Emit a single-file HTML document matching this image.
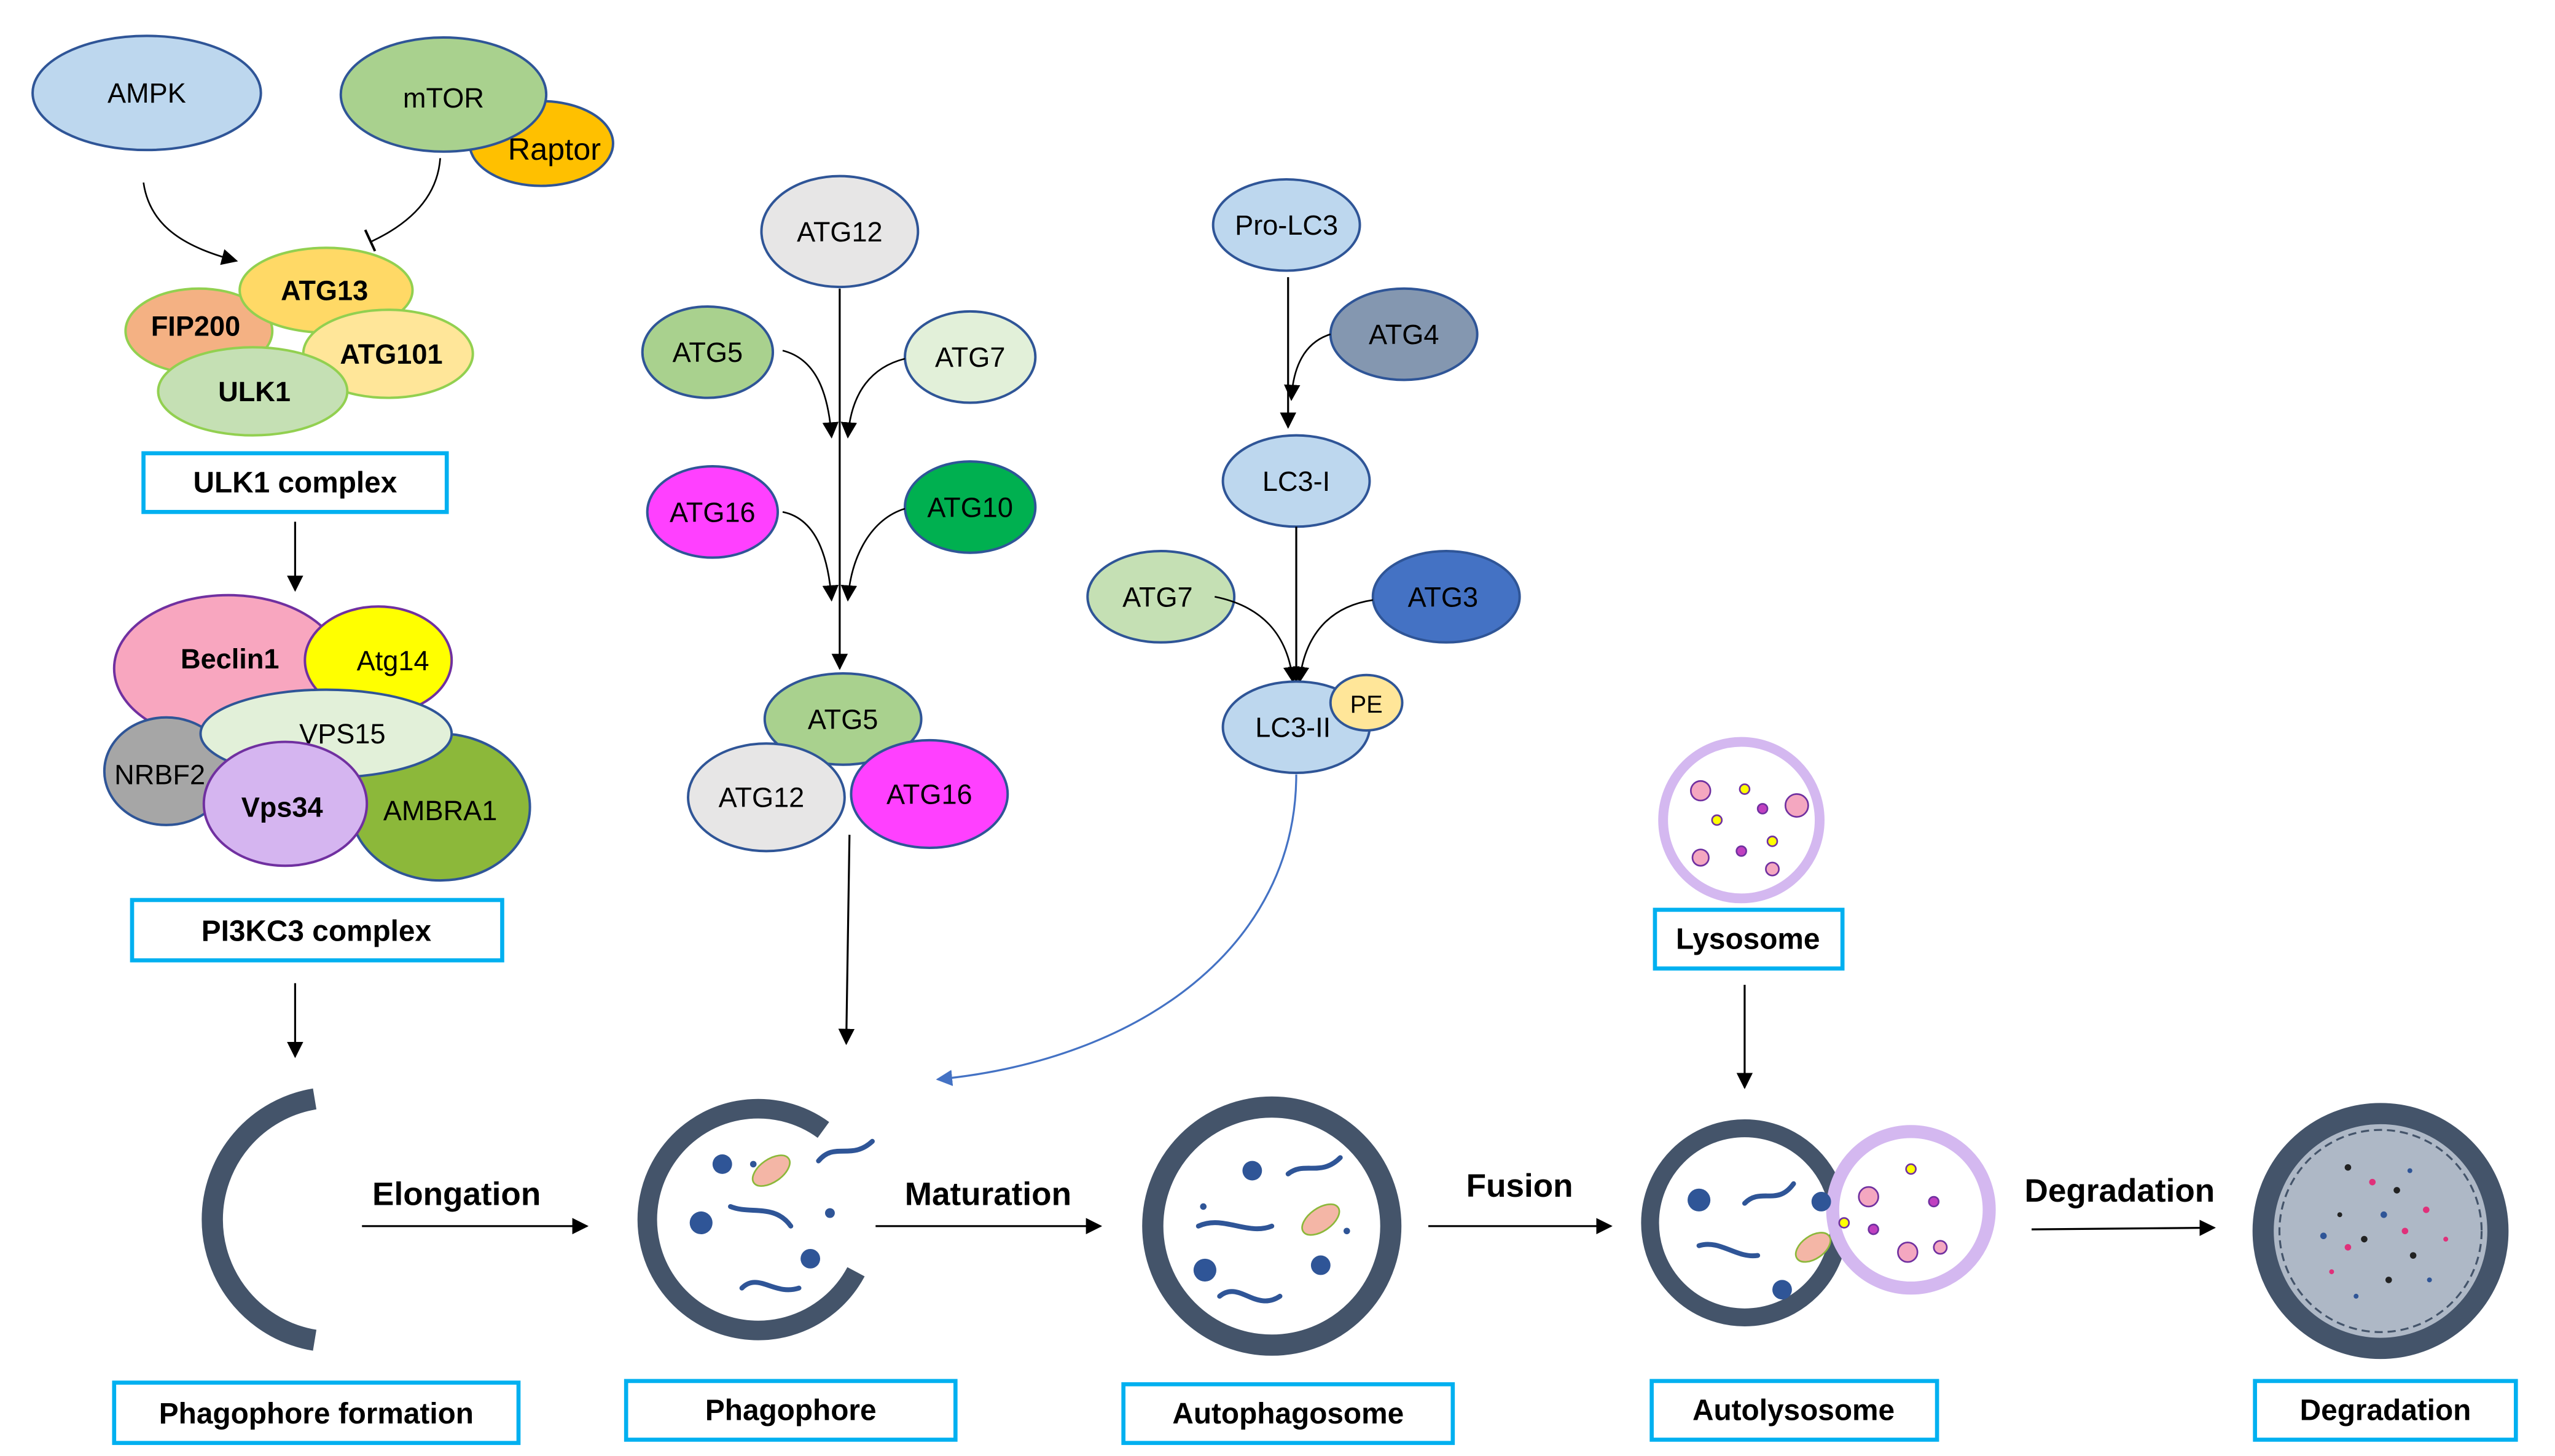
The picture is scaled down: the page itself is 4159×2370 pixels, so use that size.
<!DOCTYPE html>
<html><head><meta charset="utf-8"><style>
html,body{margin:0;padding:0;background:#fff;}
svg{display:block;}
text{font-family:"Liberation Sans",sans-serif;}
</style></head><body>
<svg width="4159" height="2370" viewBox="0 0 1567 893" preserveAspectRatio="none" xmlns="http://www.w3.org/2000/svg">
<defs>
<marker id="a" markerWidth="10" markerHeight="10" refX="9" refY="5" orient="auto" markerUnits="userSpaceOnUse"><path d="M0,0 L10,5 L0,10 z" fill="#000"/></marker>
<marker id="b" markerWidth="10" markerHeight="10" refX="9" refY="5" orient="auto" markerUnits="userSpaceOnUse"><path d="M0,0 L10,5 L0,10 z" fill="#4472c4"/></marker>
</defs>
<rect width="1567" height="893" fill="#fff"/>
<g font-size="17" text-anchor="middle">
<ellipse cx="90" cy="57" rx="70" ry="35" fill="#bdd7ee" stroke="#2f5597" stroke-width="1.5"/>
<text x="90" y="63">AMPK</text>
<ellipse cx="332" cy="88" rx="44" ry="26" fill="#ffc000" stroke="#2f5597" stroke-width="1.5"/>
<text x="340" y="98" font-size="19">Raptor</text>
<ellipse cx="272" cy="58" rx="63" ry="35" fill="#a9d18e" stroke="#2f5597" stroke-width="1.5"/>
<text x="272" y="66">mTOR</text>
<path d="M88,112 C92,140 115,152 145,160" fill="none" stroke="#000" stroke-width="1" marker-end="url(#a)"/>
<path d="M270,97 C268,125 245,140 228,148" fill="none" stroke="#000" stroke-width="1"/>
<line x1="224" y1="141" x2="230" y2="154" stroke="#000" stroke-width="1.5"/>
<g stroke="#92d050" stroke-width="1.5">
<ellipse cx="122" cy="203" rx="45" ry="26" fill="#f4b183"/>
<ellipse cx="200" cy="178" rx="53" ry="26" fill="#ffd966"/>
<ellipse cx="238" cy="217" rx="52" ry="27" fill="#ffe699"/>
<ellipse cx="155" cy="240" rx="58" ry="27" fill="#c5e0b4"/>
</g>
<g font-weight="bold">
<text x="120" y="206">FIP200</text>
<text x="199" y="184">ATG13</text>
<text x="240" y="223">ATG101</text>
<text x="156" y="246">ULK1</text>
</g>
<rect x="88" y="278" width="186" height="36" fill="#fff" stroke="#00b0f0" stroke-width="2.5"/>
<text x="181" y="302" font-weight="bold" font-size="18">ULK1 complex</text>
<line x1="181" y1="320" x2="181" y2="362" stroke="#000" stroke-width="1.2" marker-end="url(#a)"/>
<ellipse cx="140" cy="410" rx="70" ry="45" fill="#f8a6bf" stroke="#7030a0" stroke-width="1.5"/>
<ellipse cx="232" cy="405" rx="45" ry="33" fill="#ffff00" stroke="#7030a0" stroke-width="1.5"/>
<text x="141" y="410" font-weight="bold">Beclin1</text>
<text x="241" y="411">Atg14</text>
<ellipse cx="270" cy="495" rx="55" ry="45" fill="#8cb83a" stroke="#2f5597" stroke-width="1.5"/>
<ellipse cx="102" cy="473" rx="38" ry="33" fill="#a6a6a6" stroke="#2f5597" stroke-width="1.5"/>
<ellipse cx="200" cy="450" rx="77" ry="27" fill="#e2f0d9" stroke="#2f5597" stroke-width="1.5"/>
<text x="210" y="456">VPS15</text>
<ellipse cx="175" cy="493" rx="50" ry="38" fill="#d5b5f0" stroke="#7030a0" stroke-width="1.5"/>
<text x="98" y="481">NRBF2</text>
<text x="173" y="501" font-weight="bold">Vps34</text>
<text x="270" y="503">AMBRA1</text>
<rect x="81" y="552" width="227" height="37" fill="#fff" stroke="#00b0f0" stroke-width="2.5"/>
<text x="194" y="577" font-weight="bold" font-size="18">PI3KC3 complex</text>
<line x1="181" y1="603" x2="181" y2="648" stroke="#000" stroke-width="1.2" marker-end="url(#a)"/>
<ellipse cx="515" cy="142" rx="48" ry="34" fill="#e7e6e6" stroke="#2f5597" stroke-width="1.5"/>
<text x="515" y="148">ATG12</text>
<line x1="515" y1="177" x2="515" y2="410" stroke="#000" stroke-width="1.2" marker-end="url(#a)"/>
<ellipse cx="434" cy="216" rx="40" ry="28" fill="#a9d18e" stroke="#2f5597" stroke-width="1.5"/>
<text x="434" y="222">ATG5</text>
<ellipse cx="595" cy="219" rx="40" ry="28" fill="#e2f0d9" stroke="#2f5597" stroke-width="1.5"/>
<text x="595" y="225">ATG7</text>
<ellipse cx="437" cy="314" rx="40" ry="28" fill="#ff40ff" stroke="#2f5597" stroke-width="1.5"/>
<text x="437" y="320">ATG16</text>
<ellipse cx="595" cy="311" rx="40" ry="28" fill="#00b050" stroke="#2f5597" stroke-width="1.5"/>
<text x="595" y="317">ATG10</text>
<g fill="none" stroke="#000" stroke-width="1" >
<path d="M480,215 C500,220 508,240 510,268" marker-end="url(#a)"/>
<path d="M555,220 C535,225 522,240 520,268" marker-end="url(#a)"/>
<path d="M480,314 C500,318 508,340 510,368" marker-end="url(#a)"/>
<path d="M555,312 C535,318 522,340 520,368" marker-end="url(#a)"/>
</g>
<ellipse cx="517" cy="441" rx="48" ry="28" fill="#a9d18e" stroke="#2f5597" stroke-width="1.5"/>
<text x="517" y="447">ATG5</text>
<ellipse cx="470" cy="489" rx="48" ry="33" fill="#e7e6e6" stroke="#2f5597" stroke-width="1.5"/>
<text x="467" y="495">ATG12</text>
<ellipse cx="570" cy="487" rx="48" ry="33" fill="#ff40ff" stroke="#2f5597" stroke-width="1.5"/>
<text x="570" y="493">ATG16</text>
<line x1="521" y1="512" x2="519" y2="640" stroke="#000" stroke-width="1.2" marker-end="url(#a)"/>
<ellipse cx="789" cy="138" rx="45" ry="28" fill="#bdd7ee" stroke="#2f5597" stroke-width="1.5"/>
<text x="789" y="144">Pro-LC3</text>
<line x1="790" y1="170" x2="790" y2="262" stroke="#000" stroke-width="1.2" marker-end="url(#a)"/>
<ellipse cx="861" cy="205" rx="45" ry="28" fill="#8497b0" stroke="#2f5597" stroke-width="1.5"/>
<text x="861" y="211">ATG4</text>
<path d="M816,205 C800,210 793,225 792,245" fill="none" stroke="#000" stroke-width="1" marker-end="url(#a)"/>
<ellipse cx="795" cy="295" rx="45" ry="28" fill="#bdd7ee" stroke="#2f5597" stroke-width="1.5"/>
<text x="795" y="301">LC3-I</text>
<line x1="795" y1="323" x2="795" y2="418" stroke="#000" stroke-width="1.2" marker-end="url(#a)"/>
<ellipse cx="712" cy="366" rx="45" ry="28" fill="#c5e0b4" stroke="#2f5597" stroke-width="1.5"/>
<text x="710" y="372">ATG7</text>
<ellipse cx="887" cy="366" rx="45" ry="28" fill="#4472c4" stroke="#2f5597" stroke-width="1.5"/>
<text x="885" y="372">ATG3</text>
<path d="M745,366 C775,372 790,390 793,418" fill="none" stroke="#000" stroke-width="1" marker-end="url(#a)"/>
<path d="M842,368 C815,372 800,390 797,418" fill="none" stroke="#000" stroke-width="1" marker-end="url(#a)"/>
<ellipse cx="795" cy="446" rx="45" ry="28" fill="#bdd7ee" stroke="#2f5597" stroke-width="1.5"/>
<text x="793" y="452">LC3-II</text>
<ellipse cx="838" cy="431" rx="22" ry="17" fill="#ffe699" stroke="#2f5597" stroke-width="1.5"/>
<text x="838" y="437" font-size="15">PE</text>
<path d="M795,475 C795,580 700,650 575,662" fill="none" stroke="#4472c4" stroke-width="1.2" marker-end="url(#b)"/>
<circle cx="1068" cy="503" r="48" fill="#fff" stroke="#d4b8f0" stroke-width="6"/>
<g stroke="#7030a0" stroke-width="1">
<circle cx="1043" cy="485" r="6" fill="#f4a7c0"/><circle cx="1102" cy="494" r="7" fill="#f4a7c0"/>
<circle cx="1070" cy="484" r="3" fill="#ffff00"/><circle cx="1053" cy="503" r="3" fill="#ffff00"/>
<circle cx="1081" cy="496" r="3" fill="#c040c0"/><circle cx="1068" cy="522" r="3" fill="#c040c0"/>
<circle cx="1043" cy="526" r="5" fill="#f4a7c0"/><circle cx="1087" cy="533" r="4" fill="#f4a7c0"/>
<circle cx="1087" cy="516" r="3" fill="#ffff00"/>
</g>
<rect x="1015" y="558" width="115" height="36" fill="#fff" stroke="#00b0f0" stroke-width="2.5"/>
<text x="1072" y="582" font-weight="bold" font-size="18">Lysosome</text>
<line x1="1070" y1="604" x2="1070" y2="667" stroke="#000" stroke-width="1.2" marker-end="url(#a)"/>
<path d="M193,674 A75,75 0 0 0 193,822" fill="none" stroke="#44546a" stroke-width="13"/>
<text x="280" y="739" font-weight="bold" font-size="20">Elongation</text>
<line x1="222" y1="752" x2="360" y2="752" stroke="#000" stroke-width="1.2" marker-end="url(#a)"/>
<path d="M505,693 A68,68 0 1 0 525,780" fill="none" stroke="#44546a" stroke-width="12"/>
<g fill="#2f5597"><circle cx="443" cy="714" r="6"/><circle cx="430" cy="750" r="7"/><circle cx="497" cy="772" r="6"/><circle cx="509" cy="744" r="3"/><circle cx="462" cy="714" r="2"/></g>
<g fill="none" stroke="#2f5597" stroke-width="3" stroke-linecap="round">
<path d="M502,712 C512,700 522,712 535,700"/><path d="M448,740 C460,745 475,738 485,752"/><path d="M455,790 C465,780 475,795 490,790"/>
</g>
<ellipse cx="473" cy="718" rx="13" ry="7" fill="#f4b6a6" stroke="#8cb83a" transform="rotate(-35 473 718)"/>
<text x="606" y="739" font-weight="bold" font-size="20">Maturation</text>
<line x1="537" y1="752" x2="675" y2="752" stroke="#000" stroke-width="1.2" marker-end="url(#a)"/>
<circle cx="780" cy="752" r="73" fill="#fff" stroke="#44546a" stroke-width="13"/>
<g fill="#2f5597"><circle cx="768" cy="718" r="6"/><circle cx="739" cy="779" r="7"/><circle cx="810" cy="776" r="6"/><circle cx="738" cy="740" r="2"/><circle cx="826" cy="755" r="2"/></g>
<g fill="none" stroke="#2f5597" stroke-width="3" stroke-linecap="round">
<path d="M790,720 C800,712 810,722 822,710"/><path d="M735,752 C750,745 765,758 780,752"/><path d="M748,795 C760,785 770,805 785,795"/>
</g>
<ellipse cx="810" cy="748" rx="13" ry="7" fill="#f4b6a6" stroke="#8cb83a" transform="rotate(-35 810 748)"/>
<text x="932" y="734" font-weight="bold" font-size="20">Fusion</text>
<line x1="876" y1="752" x2="988" y2="752" stroke="#000" stroke-width="1.2" marker-end="url(#a)"/>
<circle cx="1070" cy="750" r="58" fill="#fff" stroke="#44546a" stroke-width="11"/>
<circle cx="1172" cy="742" r="48" fill="#fff" stroke="#d4b8f0" stroke-width="8"/>
<g fill="#2f5597"><circle cx="1042" cy="736" r="7"/><circle cx="1117" cy="737" r="6"/><circle cx="1093" cy="791" r="6"/></g>
<g fill="none" stroke="#2f5597" stroke-width="3" stroke-linecap="round">
<path d="M1070,738 C1080,728 1090,740 1100,726"/><path d="M1042,764 C1055,760 1065,772 1078,770"/>
</g>
<ellipse cx="1112" cy="765" rx="12" ry="7" fill="#f4b6a6" stroke="#8cb83a" transform="rotate(-35 1112 765)"/>
<g stroke="#7030a0" stroke-width="1"><circle cx="1146" cy="734" r="6" fill="#f4a7c0"/><circle cx="1170" cy="768" r="6" fill="#f4a7c0"/><circle cx="1190" cy="765" r="4" fill="#f4a7c0"/><circle cx="1172" cy="717" r="3" fill="#ffff00"/><circle cx="1131" cy="750" r="3" fill="#ffff00"/><circle cx="1186" cy="737" r="3" fill="#c040c0"/><circle cx="1149" cy="754" r="3" fill="#c040c0"/></g>
<text x="1300" y="737" font-weight="bold" font-size="20">Degradation</text>
<line x1="1246" y1="754" x2="1358" y2="753" stroke="#000" stroke-width="1.2" marker-end="url(#a)"/>
<circle cx="1460" cy="755" r="72" fill="#aeb8c6" stroke="#44546a" stroke-width="13"/>
<circle cx="1460" cy="755" r="62" fill="none" stroke="#44546a" stroke-width="1.2" stroke-dasharray="5,3"/>
<g fill="#222"><circle cx="1440" cy="716" r="2"/><circle cx="1470" cy="730" r="2"/><circle cx="1450" cy="760" r="2"/><circle cx="1480" cy="770" r="2"/><circle cx="1465" cy="785" r="2"/><circle cx="1435" cy="745" r="1.5"/></g>
<g fill="#e0307a"><circle cx="1455" cy="725" r="2"/><circle cx="1488" cy="742" r="2"/><circle cx="1440" cy="765" r="2"/><circle cx="1475" cy="755" r="2"/><circle cx="1500" cy="760" r="1.5"/><circle cx="1430" cy="780" r="1.5"/></g>
<g fill="#2f5597"><circle cx="1462" cy="745" r="2"/><circle cx="1425" cy="758" r="2"/><circle cx="1490" cy="785" r="1.5"/><circle cx="1445" cy="795" r="1.5"/><circle cx="1478" cy="718" r="1.5"/></g>
<g fill="#fff" stroke="#00b0f0" stroke-width="2.5">
<rect x="70" y="848" width="248" height="37"/>
<rect x="384" y="847" width="202" height="36"/>
<rect x="689" y="849" width="202" height="36"/>
<rect x="1013" y="847" width="175" height="36"/>
<rect x="1383" y="847" width="160" height="36"/>
</g>
<g font-weight="bold" font-size="18">
<text x="194" y="873">Phagophore formation</text>
<text x="485" y="871">Phagophore</text>
<text x="790" y="873">Autophagosome</text>
<text x="1100" y="871">Autolysosome</text>
<text x="1463" y="871">Degradation</text>
</g>
</g>
</svg>
</body></html>
